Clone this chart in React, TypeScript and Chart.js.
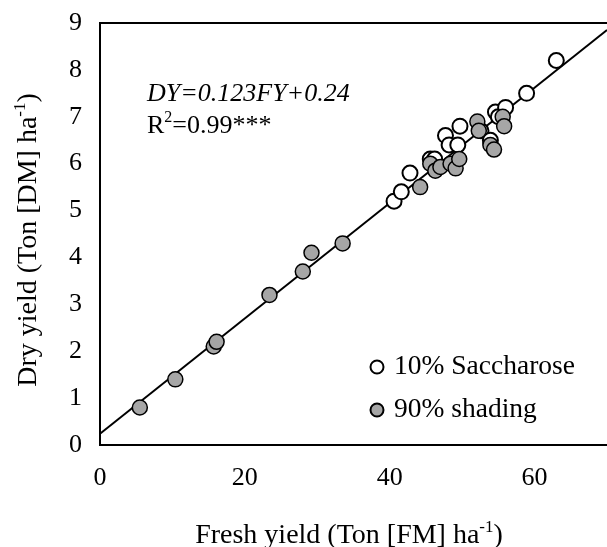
import { useEffect, useRef } from "react";
import { Chart, registerables } from "chart.js";

Chart.register(...registerables);

// Data
const saccharoseX = [40.6, 41.6, 42.8, 45.6, 46.2, 47.7, 48.2, 49.7, 49.4, 52.6, 53.9, 54.6, 55.0, 56.0, 58.9, 63.0];
const saccharoseY = [5.2, 5.4, 5.8, 6.1, 6.1, 6.6, 6.4, 6.8, 6.4, 6.7, 6.5, 7.1, 7.0, 7.2, 7.5, 8.2];

const shadingX = [5.5, 10.4, 15.7, 16.1, 23.4, 28.0, 29.2, 33.5, 44.2, 45.6, 46.3, 47.0, 48.4, 49.1, 49.6, 52.1, 52.3, 53.9, 54.4, 55.6, 55.8];
const shadingY = [0.8, 1.4, 2.1, 2.2, 3.2, 3.7, 4.1, 4.3, 5.5, 6.0, 5.85, 5.93, 6.0, 5.9, 6.1, 6.9, 6.7, 6.4, 6.3, 7.0, 6.8];

const fitX = [0, 70];
const fitY = [0.24, 8.85];

const xTicks = [0, 20, 40, 60];
const yTicks = [0, 1, 2, 3, 4, 5, 6, 7, 8, 9];

const seriesNames = ["10% Saccharose", "90% shading"];
const equationText = "DY=0.123FY+0.24";
const r2Text = "=0.99***";

const FONT = "'Liberation Serif', 'Times New Roman', serif";

function drawSupText(
  ctx: CanvasRenderingContext2D,
  parts: { t: string; sup?: boolean }[],
  cx: number,
  cy: number,
  size: number,
  align: "center" | "left"
) {
  const supSize = Math.round(size * 0.62);
  let total = 0;
  for (const p of parts) {
    ctx.font = `${p.sup ? supSize : size}px ${FONT}`;
    total += ctx.measureText(p.t).width;
  }
  let x = align === "center" ? cx - total / 2 : cx;
  ctx.textAlign = "left";
  ctx.textBaseline = "alphabetic";
  for (const p of parts) {
    ctx.font = `${p.sup ? supSize : size}px ${FONT}`;
    const y = p.sup ? cy + size * 0.33 - size * 0.4 : cy + size * 0.33;
    ctx.fillText(p.t, x, y);
    x += ctx.measureText(p.t).width;
  }
}

export default function App() {
  const ref = useRef<HTMLCanvasElement>(null);

  useEffect(() => {
    document.body.style.margin = "0";
    const canvas = ref.current;
    if (!canvas) return;

    const overlay = {
      id: "overlay",
      afterDraw(chart: any) {
        const ctx: CanvasRenderingContext2D = chart.ctx;
        const a = chart.chartArea;
        ctx.save();
        // top border
        ctx.strokeStyle = "#000";
        ctx.lineWidth = 2;
        ctx.beginPath();
        ctx.moveTo(a.left - 1, a.top);
        ctx.lineTo(a.right, a.top);
        ctx.stroke();

        ctx.fillStyle = "#000";
        // equation
        ctx.font = `italic 26px ${FONT}`;
        ctx.textAlign = "left";
        ctx.textBaseline = "middle";
        ctx.fillText(equationText, 147, 94);
        drawSupText(ctx, [{ t: "R" }, { t: "2", sup: true }, { t: r2Text }], 147, 124, 26, "left");

        // legend
        const legendRows = [
          { y: 367, fill: "#ffffff" },
          { y: 410, fill: "#a6a6a6" },
        ];
        legendRows.forEach((r, i) => {
          ctx.beginPath();
          ctx.arc(377, r.y, 6.5, 0, Math.PI * 2);
          ctx.fillStyle = r.fill;
          ctx.fill();
          ctx.lineWidth = 2;
          ctx.strokeStyle = "#000";
          ctx.stroke();
          ctx.fillStyle = "#000";
          ctx.font = `27.5px ${FONT}`;
          ctx.textAlign = "left";
          ctx.textBaseline = "middle";
          ctx.fillText(seriesNames[i], 394, r.y);
        });

        // x axis title
        drawSupText(
          ctx,
          [{ t: "Fresh yield (Ton [FM] ha" }, { t: "-1", sup: true }, { t: ")" }],
          349,
          534,
          28,
          "center"
        );
        // y axis title
        ctx.save();
        ctx.translate(27, 240);
        ctx.rotate(-Math.PI / 2);
        drawSupText(
          ctx,
          [{ t: "Dry yield (Ton [DM] ha" }, { t: "-1", sup: true }, { t: ")" }],
          0,
          0,
          28,
          "center"
        );
        ctx.restore();
        ctx.restore();
      },
    };

    const chart = new Chart(canvas, {
      type: "scatter",
      data: {
        datasets: [
          {
            type: "line",
            label: "fit",
            data: fitX.map((x, i) => ({ x, y: fitY[i] })),
            borderColor: "#000",
            borderWidth: 2,
            pointRadius: 0,
            fill: false,
            order: 3,
          } as any,
          {
            label: seriesNames[1],
            data: shadingX.map((x, i) => ({ x, y: shadingY[i] })),
            backgroundColor: "#a6a6a6",
            borderColor: "#000",
            borderWidth: 1.5,
            pointRadius: 7.5,
            order: 1,
          },
          {
            label: seriesNames[0],
            data: saccharoseX.map((x, i) => ({ x, y: saccharoseY[i] })),
            backgroundColor: "#ffffff",
            borderColor: "#000",
            borderWidth: 2,
            pointRadius: 7.5,
            order: 2,
          },
        ],
      },
      options: {
        responsive: false,
        animation: false,
        layout: { autoPadding: false, padding: { top: 23, left: 0, right: 0, bottom: 0 } },
        plugins: { legend: { display: false }, tooltip: { enabled: false } },
        scales: {
          x: {
            type: "linear",
            min: 0,
            max: 70,
            grid: { display: false, drawTicks: false },
            border: { display: true, color: "#000", width: 2 },
            afterBuildTicks: (s: any) => {
              s.ticks = xTicks.map((v) => ({ value: v }));
            },
            afterFit: (s: any) => {
              s.height = 102;
              s.paddingLeft = 0;
              s.paddingRight = 0;
            },
            ticks: {
              color: "#000",
              font: { family: FONT, size: 26 },
              padding: 18,
              maxRotation: 0,
              autoSkip: false,
            },
          },
          y: {
            type: "linear",
            min: 0,
            max: 9,
            grid: { display: false, drawTicks: false },
            border: { display: true, color: "#000", width: 2 },
            afterBuildTicks: (s: any) => {
              s.ticks = yTicks.map((v) => ({ value: v }));
            },
            afterFit: (s: any) => {
              s.width = 100;
              s.paddingTop = 0;
              s.paddingBottom = 0;
            },
            ticks: {
              color: "#000",
              font: { family: FONT, size: 26 },
              padding: 18,
              autoSkip: false,
            },
          },
        },
      },
      plugins: [overlay],
    });

    return () => chart.destroy();
  }, []);

  return (
    <div style={{ width: 607, height: 547 }}>
      <canvas ref={ref} width={607} height={547} style={{ display: "block" }} />
    </div>
  );
}
